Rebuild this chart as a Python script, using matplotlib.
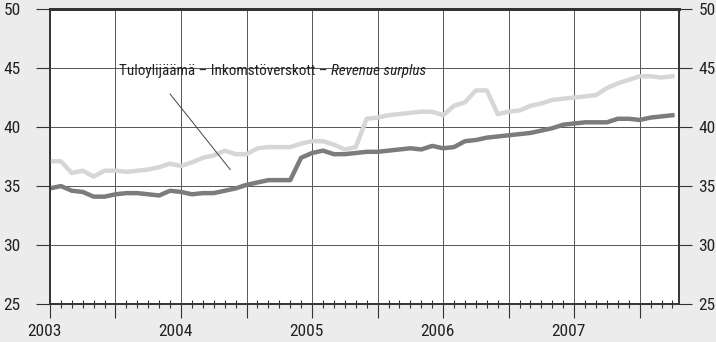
import numpy as np
import matplotlib
matplotlib.use('Agg')
import matplotlib.pyplot as plt
from matplotlib.ticker import MultipleLocator

plt.rcParams['font.family'] = ['Roboto Condensed', 'Liberation Sans Narrow', 'Roboto', 'DejaVu Sans']

# Monthly values, Jan 2003 - Oct 2007
start_year = 2003
revenue_surplus = [37.1, 37.1, 36.1, 36.3, 35.8, 36.3, 36.3, 36.2, 36.3, 36.4,
                   36.6, 36.9, 36.7, 37.0, 37.4, 37.6, 38.0, 37.7, 37.7, 38.2,
                   38.3, 38.3, 38.3, 38.6, 38.8, 38.8, 38.5, 38.1, 38.3, 40.7,
                   40.8, 41.0, 41.1, 41.2, 41.3, 41.3, 41.0, 41.8, 42.1, 43.1,
                   43.1, 41.1, 41.3, 41.4, 41.8, 42.0, 42.3, 42.4, 42.5, 42.6,
                   42.7, 43.3, 43.7, 44.0, 44.3, 44.3, 44.2, 44.3]
second_series = [34.8, 35.0, 34.6, 34.5, 34.1, 34.1, 34.3, 34.4, 34.4, 34.3,
                 34.2, 34.6, 34.5, 34.3, 34.4, 34.4, 34.6, 34.8, 35.1, 35.3,
                 35.5, 35.5, 35.5, 37.4, 37.8, 38.0, 37.7, 37.7, 37.8, 37.9,
                 37.9, 38.0, 38.1, 38.2, 38.1, 38.4, 38.2, 38.3, 38.8, 38.9,
                 39.1, 39.2, 39.3, 39.4, 39.5, 39.7, 39.9, 40.2, 40.3, 40.4,
                 40.4, 40.4, 40.7, 40.7, 40.6, 40.8, 40.9, 41.0]
year_labels = ['2003', '2004', '2005', '2006', '2007']
label_fi_sv = 'Tuloylijäämä – Inkomstöverskott – '
label_en = 'Revenue surplus'

x = start_year + np.arange(len(revenue_surplus)) / 12.0

fig = plt.figure(figsize=(7.16, 3.42), dpi=100, facecolor='#ececec')
ax = fig.add_axes([0.0698, 0.111, 0.8785, 0.8626])
ax.set_facecolor('white')

ax.plot(x, revenue_surplus, color='#d6d6d6', lw=3.2, solid_joinstyle='round', zorder=3)
ax.plot(x, second_series, color='#7c7c7c', lw=3.2, solid_joinstyle='round', zorder=3)

ax.set_xlim(start_year, start_year + 57.6 / 12)
ax.set_ylim(25, 50)

ax.xaxis.set_major_locator(MultipleLocator(0.5))
ax.xaxis.set_minor_locator(MultipleLocator(1 / 12))
ax.yaxis.set_major_locator(MultipleLocator(5))
ax.set_xticklabels([])
for i, lab in enumerate(year_labels):
    ax.text(start_year + i - 0.045, -0.068, lab, transform=ax.get_xaxis_transform(),
            ha='center', va='top', fontsize=12.5, color='#222222')

ax.grid(True, which='major', color='#555555', lw=0.7)
ax.tick_params(axis='x', which='major', direction='out', length=10, width=0.8, color='#333333')
ax.tick_params(axis='x', which='minor', direction='inout', length=6, width=0.8, color='#333333')
ax.tick_params(axis='y', which='major', direction='out', length=10, width=0.8,
               color='#333333', pad=11, labelsize=12.5, labelcolor='#222222')

ax2 = ax.twinx()
ax2.set_ylim(25, 50)
ax2.yaxis.set_major_locator(MultipleLocator(5))
ax2.tick_params(axis='y', direction='out', length=9, width=0.8, color='#333333',
                pad=5, labelsize=12.5, labelcolor='#222222')

for a in (ax, ax2):
    for side in ('left', 'right', 'bottom'):
        a.spines[side].set_linewidth(1.2)
        a.spines[side].set_color('#333333')
    a.spines['top'].set_linewidth(2)
    a.spines['top'].set_color('#333333')

t1 = ax.text(start_year + 6.3 / 12, 44.75, label_fi_sv, fontsize=10.9, va='center', ha='left', color='#222222')
ax.annotate(label_en, xy=(1, 0.5), xycoords=t1, va='center', ha='left',
            fontsize=10.9, style='italic', color='#222222')
ax.plot([start_year + 11.0 / 12, start_year + 16.5 / 12], [42.8, 36.4], color='#444444', lw=0.7, zorder=4)

fig.savefig('out.png', dpi=100, facecolor=fig.get_facecolor())
